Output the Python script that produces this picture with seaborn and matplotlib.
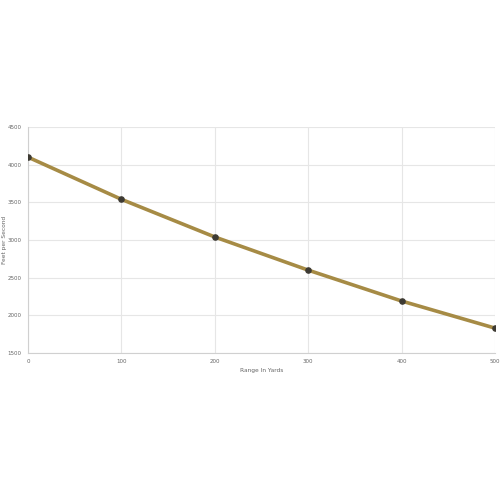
import matplotlib
matplotlib.use("Agg")
import matplotlib.pyplot as plt
import seaborn as sns
import pandas as pd

# Velocity vs range data
range_yards = [0, 100, 200, 300, 400, 500]
feet_per_second = [4100, 3540, 3040, 2600, 2190, 1830]

df = pd.DataFrame({"Range In Yards": range_yards, "Feet per Second": feet_per_second})

sns.set_style("white")
plt.rcParams["font.family"] = ["DejaVu Sans"]

fig = plt.figure(figsize=(5, 5), dpi=100)
ax = fig.add_axes([0.056, 0.294, 0.934, 0.452])

sns.lineplot(data=df, x="Range In Yards", y="Feet per Second", ax=ax,
             color="#a68b45", linewidth=2.6, zorder=2)
ax.scatter(df["Range In Yards"], df["Feet per Second"], s=14,
           color="#3d3a33", zorder=3)

ax.set_xlim(0, 500)
ax.set_ylim(1500, 4500)
ax.set_xticks(range(0, 501, 100))
ax.set_yticks(range(1500, 4501, 500))
ax.grid(True, color="#e6e6e6", linewidth=0.8)
ax.tick_params(axis="both", labelsize=4, colors="#666666", length=3,
               color="#e6e6e6", pad=1.5)
for s in ["top", "right"]:
    ax.spines[s].set_visible(False)
for s in ["left", "bottom"]:
    ax.spines[s].set_color("#d0d0d0")
    ax.spines[s].set_linewidth(0.8)
ax.set_xlabel("Range In Yards", fontsize=4.2, color="#666666", labelpad=3)
ax.set_ylabel("Feet per Second", fontsize=4.2, color="#666666")
ax.yaxis.set_label_coords(-0.046, 0.5)

fig.savefig("out.png", dpi=100)
